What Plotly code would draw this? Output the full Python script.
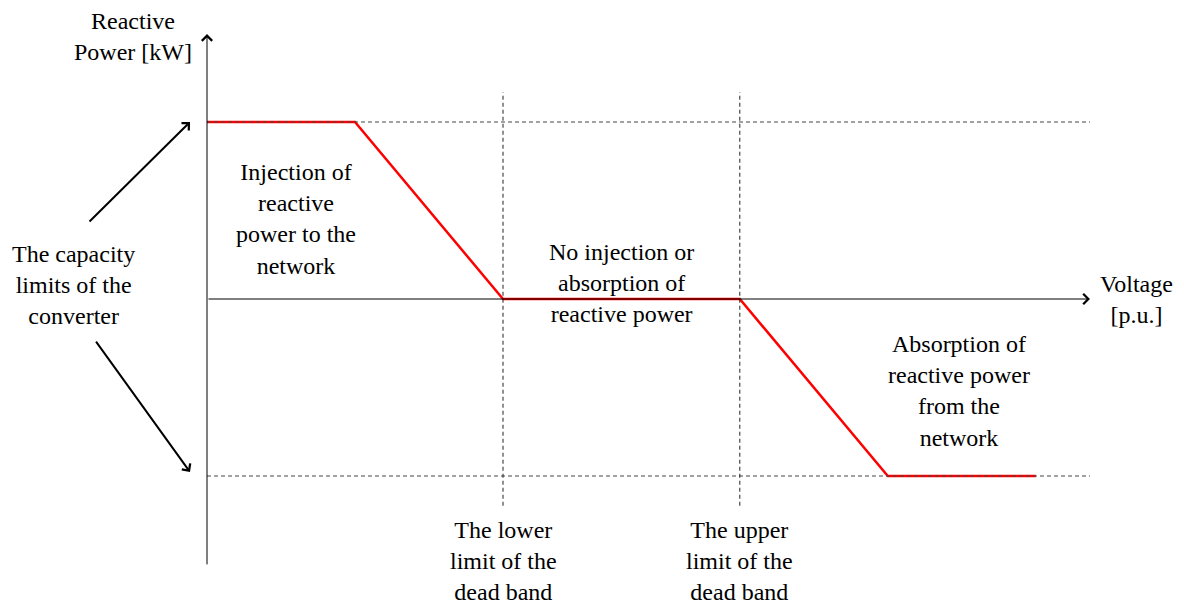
# -- ------------------------------------------------------------------------------------ -- #
# -- curva Q(V): control de potencia reactiva con banda muerta
# -- ------------------------------------------------------------------------------------ -- #

import plotly.graph_objects as go

# -- datos de la curva (unidades arbitrarias, limites de capacidad = +/-1)
voltaje = [0.0, 1.0, 2.0, 3.6, 4.6, 5.6]
potencia_reactiva = [1.0, 1.0, 0.0, 0.0, -1.0, -1.0]
limites_capacidad = [1.0, -1.0]
banda_muerta = [2.0, 3.6]

etiqueta_eje_y = 'Reactive<br>Power [kW]'
etiqueta_eje_x = 'Voltage<br>[p.u.]'
texto_inyeccion = 'Injection of<br>reactive<br>power to the<br>network'
texto_banda = 'No injection or<br>absorption of<br>reactive power'
texto_absorcion = 'Absorption of<br>reactive power<br>from the<br>network'
texto_capacidad = 'The capacity<br>limits of the<br>converter'
texto_inferior = 'The lower<br>limit of the<br>dead band'
texto_superior = 'The upper<br>limit of the<br>dead band'

fuente = dict(family='Liberation Serif, Times New Roman, serif', size=24, color='black')

# -- escala: 148 px por unidad de voltaje, 177 px por unidad de potencia
# -- (la pagina deja un margen de 8 px, la figura ocupa el resto de la ventana)
ancho, alto, borde = 1184, 605, 8
x_rango = [(borde - 207) / 148, (ancho - 207) / 148]
y_rango = [(299 - alto) / 177, (299 - borde) / 177]
x_fin_eje = 5.966
y_ini_eje, y_fin_eje = -1.508, 1.497
y_guia = 1.168


def flecha(x, y, ax, ay, grosor, tam):
    return dict(x=x, y=y, ax=ax, ay=ay, xref='x', yref='y', axref='x', ayref='y',
                text='', showarrow=True, arrowhead=4, arrowwidth=grosor,
                arrowsize=tam, arrowcolor='black', standoff=0)


def texto(x, y, t):
    return dict(x=x, y=y, xref='x', yref='y', text=t, showarrow=False,
                font=fuente, align='center', xanchor='center', yanchor='middle')


fig = go.Figure()

# -- lineas guia punteadas
for q in limites_capacidad:
    fig.add_shape(type='line', x0=0, x1=x_fin_eje, y0=q, y1=q, xref='x', yref='y',
                  line=dict(color='#444444', width=1, dash='4px,3px'))
for v in banda_muerta:
    fig.add_shape(type='line', x0=v, x1=v, y0=-y_guia, y1=y_guia, xref='x', yref='y',
                  line=dict(color='#222222', width=1, dash='4px,3px'))

# -- curva de control
fig.add_trace(go.Scatter(x=voltaje, y=potencia_reactiva, mode='lines',
                         line=dict(color='#ff0000', width=2.5), hoverinfo='skip'))

anotaciones = [
    # ejes
    flecha(0, y_fin_eje, 0, y_ini_eje, 1, 2),
    flecha(x_fin_eje, 0, 0, 0, 1, 2),
    # flechas hacia los limites de capacidad
    flecha(-0.115, 1.0, -0.804, 0.429, 2, 1),
    flecha(-0.115, -0.977, -0.757, -0.232, 2, 1),
    texto(-0.5, 1.485, etiqueta_eje_y),
    texto(6.28, 0.0, etiqueta_eje_x),
    texto(0.60, 0.452, texto_inyeccion),
    texto(2.8, 0.09, texto_banda),
    texto(5.08, -0.52, texto_absorcion),
    texto(-0.90, 0.08, texto_capacidad),
    texto(banda_muerta[0], -1.48, texto_inferior),
    texto(banda_muerta[1], -1.48, texto_superior),
]

fig.update_layout(width=ancho - borde, height=alto - borde,
                  margin=dict(l=0, r=0, t=0, b=0),
                  plot_bgcolor='white', paper_bgcolor='white', showlegend=False,
                  annotations=anotaciones,
                  xaxis=dict(range=x_rango, visible=False, fixedrange=True),
                  yaxis=dict(range=y_rango, visible=False, fixedrange=True))

fig.write_html('out.html')
